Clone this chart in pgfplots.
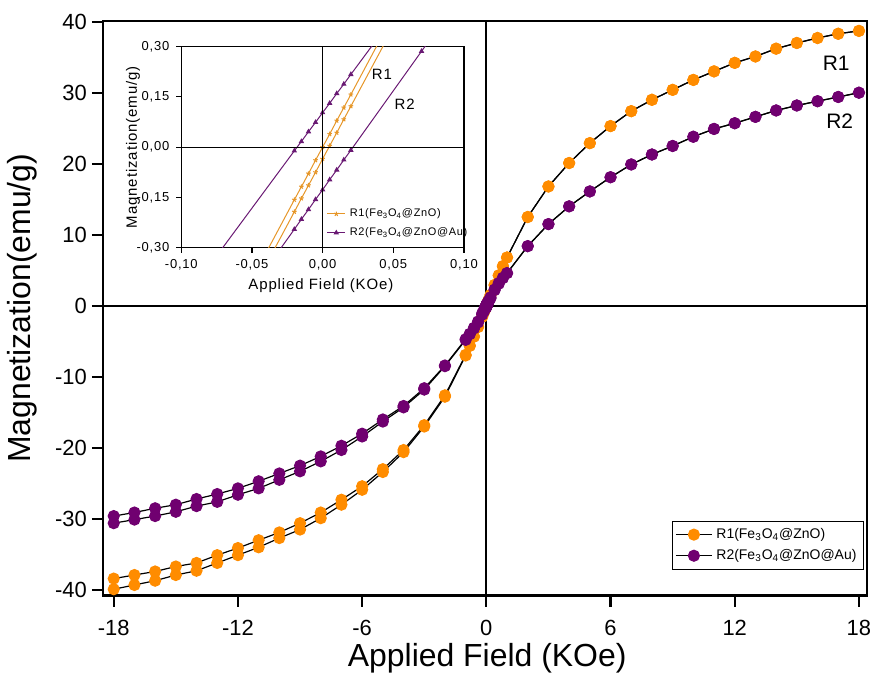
\documentclass[border=0pt]{standalone}
\usepackage{fontspec}
\setmainfont{Liberation Sans}
\newfontfamily\spaced{Liberation Sans}[LetterSpace=6]
\usepackage{pgfplots}
\pgfplotsset{compat=1.18}
\usepackage{pgfplotstable}

\definecolor{rone}{RGB}{255,140,0}
\definecolor{rtwo}{RGB}{112,0,112}
\definecolor{ronein}{RGB}{230,150,40}
\definecolor{rtwoin}{RGB}{105,25,115}

% R1 (Fe3O4@ZnO): x = field (KOe), a/b = the two branches of the loop
\pgfplotstableread{
x      a       b
-18    -38.4   -39.9
-17    -37.9   -39.3
-16    -37.4   -38.7
-15    -36.7   -37.9
-14    -36.2   -37.3
-13    -35.1   -36.2
-12    -34.1   -35.1
-11    -33.0   -34.0
-10    -31.9   -32.7
-9     -30.6   -31.5
-8     -29.1   -29.9
-7     -27.3   -28.0
-6     -25.4   -25.9
-5     -23.0   -23.4
-4     -20.3   -20.6
-3     -16.8   -17.0
-2     -12.6   -12.8
-1     -6.9    -7.0
-0.8   -5.6    -5.65
-0.6   -4.3    -4.35
-0.4   -2.95   -3.0
-0.2   -1.52   -1.56
-0.1   -0.77   -0.81
-0.05  -0.394  -0.429
-0.02  -0.157  -0.193
-0.015 -0.118  -0.153
-0.01  -0.079  -0.114
-0.005 -0.039  -0.075
0      0       -0.035
0.005  0.039   0.004
0.01   0.079   0.043
0.015  0.118   0.083
0.02   0.157   0.122
0.05   0.394   0.358
0.1    0.77    0.73
0.2    1.52    1.48
0.4    2.95    2.9
0.6    4.3     4.25
0.8    5.6     5.55
1      6.8     6.8
2      12.5    12.5
3      16.8    16.8
4      20.1    20.1
5      22.9    22.9
6      25.3    25.3
7      27.4    27.4
8      29.0    29.0
9      30.4    30.4
10     31.8    31.8
11     33.0    33.0
12     34.2    34.2
13     35.1    35.1
14     36.2    36.2
15     37.0    37.0
16     37.7    37.7
17     38.3    38.3
18     38.7    38.7
}\ronedata

% R2 (Fe3O4@ZnO@Au)
\pgfplotstableread{
x      a       b
-18    -29.6   -30.6
-17    -29.1   -30.1
-16    -28.5   -29.6
-15    -28.0   -29.0
-14    -27.2   -28.2
-13    -26.5   -27.6
-12    -25.7   -26.6
-11    -24.7   -25.7
-10    -23.6   -24.5
-9     -22.5   -23.3
-8     -21.2   -21.9
-7     -19.7   -20.3
-6     -18.0   -18.4
-5     -16.0   -16.3
-4     -14.1   -14.3
-3     -11.6   -11.8
-2     -8.4    -8.5
-1     -4.7    -4.8
-0.8   -3.95   -4.0
-0.6   -3.1    -3.2
-0.4   -2.2    -2.35
-0.2   -1.05   -1.25
-0.1   -0.467  -0.717
-0.02  -0.011  -0.245
-0.015 0.017   -0.215
-0.01  0.046   -0.186
-0.005 0.074   -0.156
0      0.103   -0.127
0.005  0.131   -0.097
0.01   0.160   -0.068
0.015  0.188   -0.038
0.02   0.217   -0.009
0.07   0.502   0.286
0.1    0.67    0.463
0.2    1.2     1.05
0.4    2.3     2.2
0.6    3.2     3.1
0.8    3.95    3.9
1      4.6     4.6
2      8.4     8.4
3      11.5    11.5
4      14.0    14.0
5      16.1    16.1
6      18.1    18.1
7      19.9    19.9
8      21.3    21.3
9      22.5    22.5
10     23.8    23.8
11     24.9    24.9
12     25.7    25.7
13     26.6    26.6
14     27.5    27.5
15     28.2    28.2
16     28.8    28.8
17     29.4    29.4
18     30.0    30.0
}\rtwodata

\begin{document}
\begin{tikzpicture}
\begin{axis}[
    name=main,
    scale only axis, width=383pt, height=288pt,
    xmin=-18.53, xmax=18.39, ymin=-40.8, ymax=40.1,
    xtick={-18,-12,-6,0,6,12,18},
    ytick={-40,-30,-20,-10,0,10,20,30,40},
    tick align=outside, tick pos=left,
    major tick length=5.5pt,
    axis line style={line width=1.2pt},
    every tick/.style={black, line width=1.1pt},
    /pgf/number format/assume math mode=true,
    ticklabel style={font=\fontsize{11}{13}\selectfont},
    xticklabel style={yshift=-3.5pt},
    yticklabel style={xshift=1pt},
    xlabel={Applied Field (KOe)},
    ylabel={Magnetization(emu/g)},
    label style={font=\fontsize{16}{19}\selectfont},
    xlabel style={at={(axis description cs:0.503,-0.109)}, anchor=center},
    ylabel style={at={(axis description cs:-0.106,0.5)}, anchor=center},
    legend image code/.code={\draw[#1, mark repeat=2, mark phase=2] plot coordinates {(0pt,0pt) (9pt,0pt) (18pt,0pt)};},
    legend style={at={(rel axis cs:0.996,0.045)}, anchor=south east,
        draw=black, line width=0.5pt, inner sep=1.5pt, row sep=0pt,
        font=\fontsize{7}{8}\selectfont},
    legend cell align=left,
]
\addplot[black, line width=0.6pt, mark=*, mark size=2.75pt, mark options={draw=rone, fill=rone}] table[x=x, y=a] {\ronedata};
\addlegendentry{R1(Fe\textsubscript{3}O\textsubscript{4}@ZnO)}
\addplot[black, line width=0.6pt, mark=*, mark size=2.75pt, mark options={draw=rone, fill=rone}, forget plot] table[x=x, y=b] {\ronedata};
\addplot[black, line width=0.6pt, mark=*, mark size=2.75pt, mark options={draw=rtwo, fill=rtwo}] table[x=x, y=a] {\rtwodata};
\addlegendentry{R2(Fe\textsubscript{3}O\textsubscript{4}@ZnO@Au)}
\addplot[black, line width=0.6pt, mark=*, mark size=2.75pt, mark options={draw=rtwo, fill=rtwo}, forget plot] table[x=x, y=b] {\rtwodata};

\draw[black, line width=1pt] (axis cs:0,-40.8) -- (axis cs:0,40.1);
\draw[black, line width=1pt] (axis cs:-18.53,0) -- (axis cs:18.39,0);

\node[font=\fontsize{10.5}{12}\selectfont] at (axis cs:16.9,34.2) {R1};
\node[font=\fontsize{10.5}{12}\selectfont] at (axis cs:17.07,26.0) {R2};
\end{axis}

% inset: zoom on the loop near zero field
\begin{axis}[
    name=inset,
    at={(main.north west)}, anchor=north west,
    xshift=39.35pt, yshift=-12.85pt,
    scale only axis, width=141.65pt, height=100.8pt,
    xmin=-0.1, xmax=0.1, ymin=-0.3, ymax=0.3,
    xtick={-0.1,-0.05,0,0.05,0.1},
    ytick={-0.3,-0.15,0,0.15,0.3},
    clip marker paths=true,
    tick align=outside, tick pos=left,
    major tick length=2.5pt,
    axis line style={line width=0.6pt},
    every tick/.style={black, line width=0.6pt},
    /pgf/number format/.cd, fixed, fixed zerofill, precision=2, use comma, assume math mode=true,
    /pgfplots/.cd,
    ticklabel style={font=\spaced\fontsize{6.5}{8}\selectfont},
    xlabel={Applied Field (KOe)},
    ylabel={Magnetization(emu/g)},
    label style={font=\spaced\fontsize{7.5}{9}\selectfont},
    xlabel style={at={(axis description cs:0.494,-0.19)}, anchor=center},
    ylabel style={at={(axis description cs:-0.171,0.5)}, anchor=center},
    legend image code/.code={\draw[#1, mark repeat=2, mark phase=2] plot coordinates {(0pt,0pt) (4.5pt,0pt) (9pt,0pt)};},
    legend style={at={(rel axis cs:0.51,0.02)}, anchor=south west,
        draw=none, fill=none, inner sep=0.5pt, row sep=0pt,
        font=\spaced\fontsize{5.5}{6.5}\selectfont},
    legend cell align=left,
    restrict x to domain=-0.15:0.15,
]
\addplot[ronein, line width=0.5pt, mark=star, mark size=1.2pt] table[x=x, y=a] {\ronedata};
\addlegendentry{R1(Fe\textsubscript{3}O\textsubscript{4}@ZnO)}
\addplot[ronein, line width=0.5pt, mark=star, mark size=1.2pt, forget plot] table[x=x, y=b] {\ronedata};
\addplot[rtwoin, line width=0.5pt, mark=triangle*, mark size=1.1pt] table[x=x, y=a] {\rtwodata};
\addlegendentry{R2(Fe\textsubscript{3}O\textsubscript{4}@ZnO@Au)}
\addplot[rtwoin, line width=0.5pt, mark=triangle*, mark size=1.1pt, forget plot] table[x=x, y=b] {\rtwodata};

\draw[black, line width=0.5pt] (axis cs:0,-0.3) -- (axis cs:0,0.3);
\draw[black, line width=0.5pt] (axis cs:-0.1,0) -- (axis cs:0.1,0);

\node[font=\spaced\fontsize{7.5}{9}\selectfont] at (axis cs:0.042,0.216) {R1};
\node[font=\spaced\fontsize{7.5}{9}\selectfont] at (axis cs:0.058,0.127) {R2};
\end{axis}

\pgfresetboundingbox
\path ([xshift=-51.5pt, yshift=-40.5pt]main.south west) rectangle ([xshift=2pt, yshift=10.5pt]main.north east);
\end{tikzpicture}
\end{document}
